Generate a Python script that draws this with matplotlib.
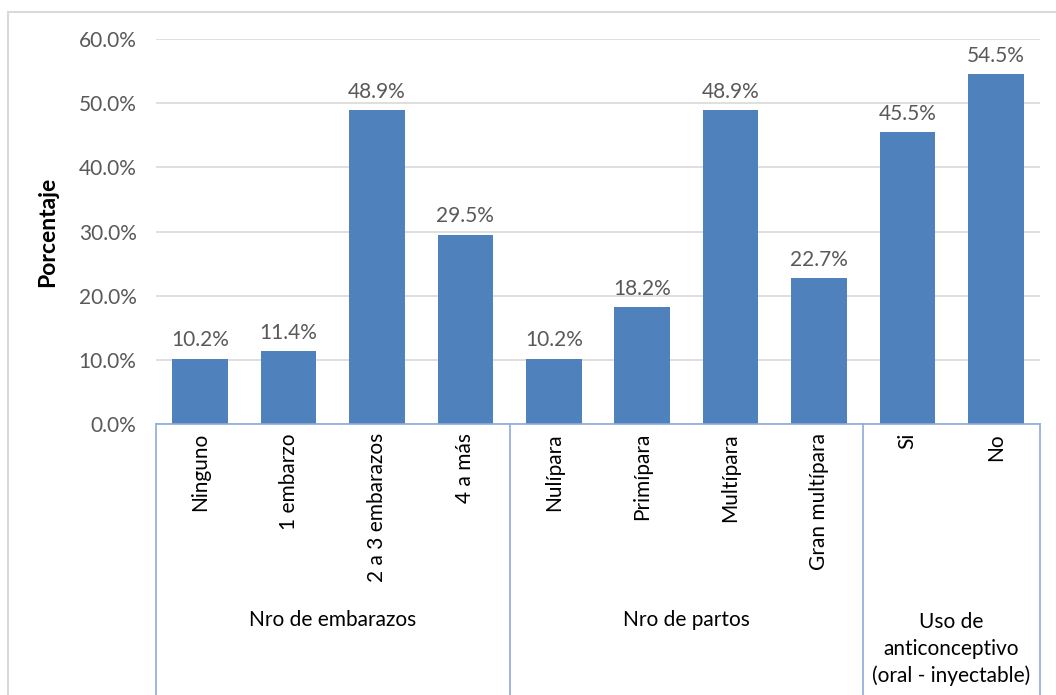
import matplotlib.pyplot as plt
import matplotlib.ticker as ticker
from matplotlib.patches import Rectangle
from matplotlib.lines import Line2D

# ─── DATA ────────────────────────────────────────────────────────────────────
categories = ['Ninguno', '1 embarzo', '2 a 3 embarazos', '4 a más',
              'Nulípara', 'Primípara', 'Multípara', 'Gran multípara',
              'Si', 'No']
values = [10.2, 11.4, 48.9, 29.5, 10.2, 18.2, 48.9, 22.7, 45.5, 54.5]
groups = ['Nro de embarazos', 'Nro de partos',
          'Uso de\nanticonceptivo\n(oral - inyectable)']
group_sizes = [4, 4, 2]

plt.rcParams.update({
    'font.family': ['Lato', 'DejaVu Sans'],
    'figure.dpi': 100,
})

FS = 15

W, H = 1056, 695
fig = plt.figure(figsize=(W / 100, H / 100), dpi=100)
fig.patch.set_facecolor('white')

# plot area in pixel coordinates of the reference
L, R, B, T = 156, 1040, 424, 39
ax = fig.add_axes([L / W, 1 - B / H, (R - L) / W, (B - T) / H])

# outer chart border (cropped on right and bottom)
fig.patches.append(Rectangle((8 / W, -0.1), 1.2, 1 - 12 / H + 0.1,
                             transform=fig.transFigure, fill=False,
                             ec='#d9d9d9', lw=1.5, zorder=0))

x = list(range(len(categories)))
ax.bar(x, values, width=0.63, color='#4f81bd', zorder=3)

for xi, v in zip(x, values):
    ax.annotate(f'{v:.1f}%', xy=(xi, v), xytext=(0, 6),
                textcoords='offset points', ha='center', va='bottom',
                fontsize=FS, color='#595959')

# ─── AXES ────────────────────────────────────────────────────────────────────
ax.set_xlim(-0.5, len(categories) - 0.5)
ax.set_ylim(0, 60)
ax.yaxis.set_major_locator(ticker.MultipleLocator(10))
ax.yaxis.set_major_formatter(ticker.FuncFormatter(lambda v, p: f'{v:.1f}%'))
ax.tick_params(axis='y', length=0, pad=14, labelsize=FS, labelcolor='#595959')
ax.set_xticks([])
ax.grid(True, axis='y', color='#d9d9d9', lw=1.2, zorder=0)
for s in ['top', 'right', 'left']:
    ax.spines[s].set_visible(False)
ax.spines['bottom'].set_color('#8eaadb')
ax.spines['bottom'].set_linewidth(1.2)
ax.spines['bottom'].set_zorder(4)

ax.set_ylabel('Porcentaje', fontsize=16.5, fontweight='bold')
ax.yaxis.set_label_coords((58 - L) / (R - L), 0.5)

# ─── MULTI-LEVEL CATEGORY AXIS ───────────────────────────────────────────────
trans = ax.get_xaxis_transform()
for xi, c in zip(x, categories):
    ax.text(xi, -(433 - B) / (B - T), c, transform=trans, rotation=90,
            ha='center', va='top', fontsize=FS, color='black')

start = -0.5
for g, n in zip(groups, group_sizes):
    if '\n' in g:
        ax.text(start + n / 2, -(612 - B) / (B - T), g, transform=trans,
                ha='center', va='top', fontsize=FS, color='black',
                linespacing=1.42)
    else:
        ax.text(start + n / 2, -(620 - B) / (B - T), g, transform=trans,
                ha='center', va='center', fontsize=FS, color='black')
    start += n

# separators between groups
seps = [-0.5]
for n in group_sizes:
    seps.append(seps[-1] + n)
for s in seps:
    ax.add_line(Line2D([s, s], [0, -(H - B) / (B - T)], transform=trans,
                       color='#8eaadb', lw=1.2, clip_on=False))

fig.savefig('out.png', dpi=100, facecolor='white')
